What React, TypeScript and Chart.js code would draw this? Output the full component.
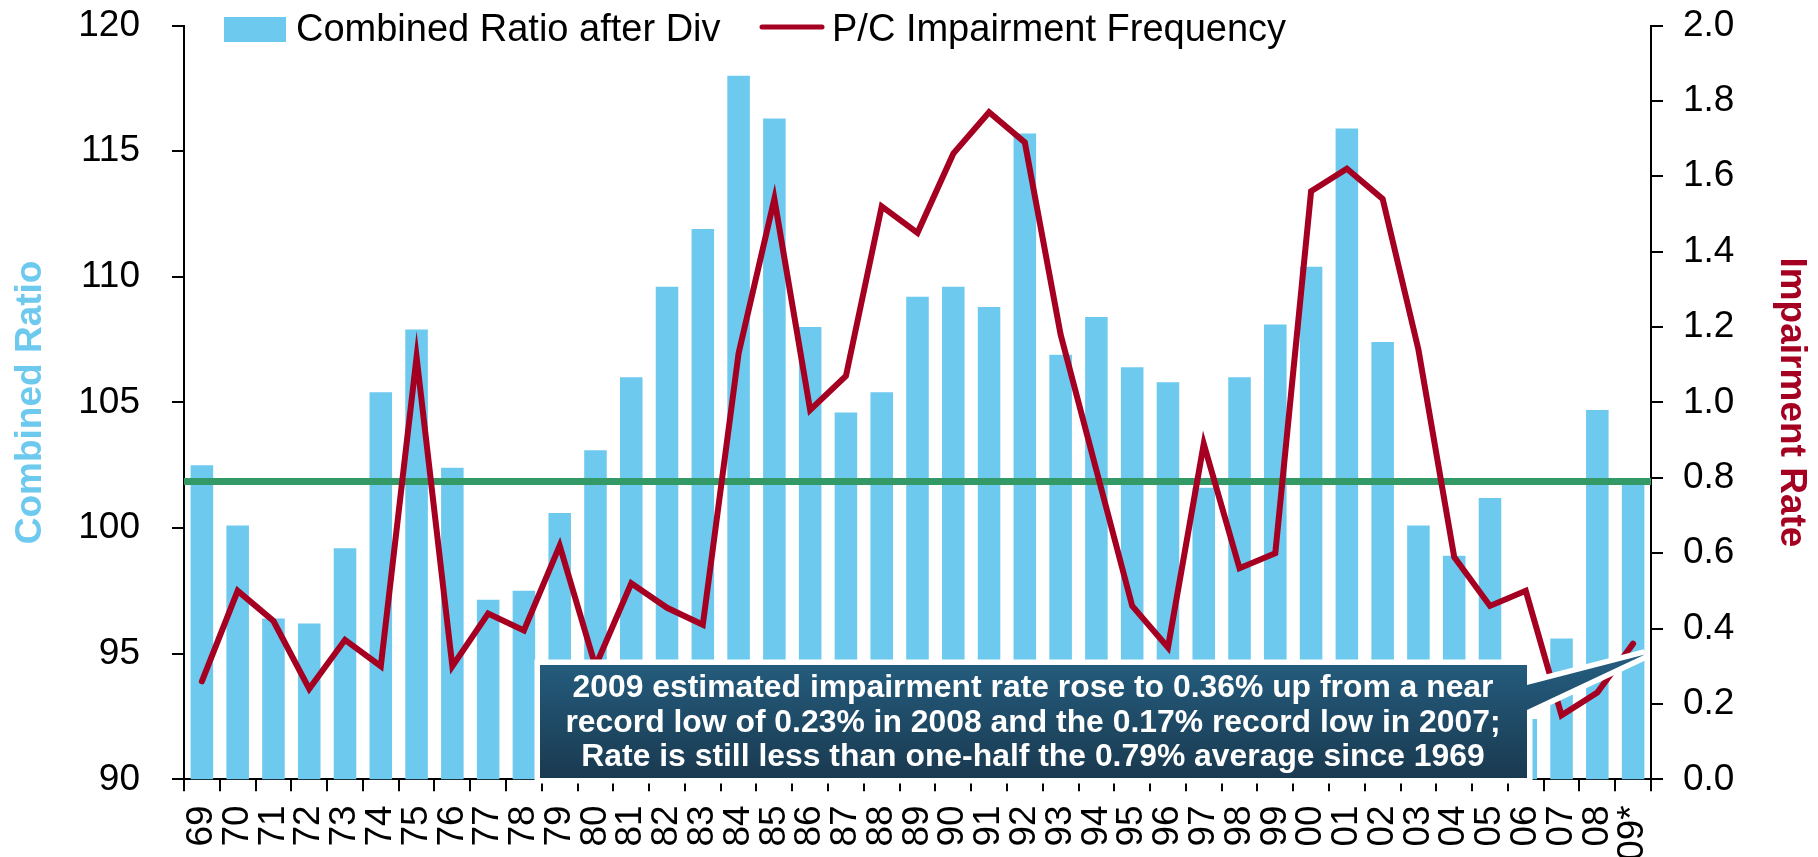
import React, { useEffect, useRef } from 'react';
import { Chart, registerables } from 'chart.js';

Chart.register(...registerables);

const FONT = "'Liberation Sans', Arial, Helvetica, sans-serif";
const BLUE = '#6DC9EE';
const RED = '#A50021';
const GREEN = '#339966';

const years = [
  '69', '70', '71', '72', '73', '74', '75', '76', '77', '78',
  '79', '80', '81', '82', '83', '84', '85', '86', '87', '88',
  '89', '90', '91', '92', '93', '94', '95', '96', '97', '98',
  '99', '00', '01', '02', '03', '04', '05', '06', '07', '08', '09*',
];

const combinedRatio = [
  102.5, 100.1, 96.4, 96.2, 99.2, 105.4, 107.9, 102.4, 97.15, 97.5,
  100.6, 103.1, 106.0, 109.6, 111.9, 118.0, 116.3, 108.0, 104.6, 105.4,
  109.2, 109.6, 108.8, 115.7, 106.9, 108.4, 106.4, 105.8, 101.6, 106.0,
  108.1, 110.4, 115.9, 107.4, 100.1, 98.9, 101.2, 92.4, 95.6, 104.7, 101.8,
];

const impairmentRate = [
  0.26, 0.50, 0.42, 0.24, 0.37, 0.30, 1.12, 0.30, 0.44, 0.395,
  0.62, 0.30, 0.52, 0.455, 0.41, 1.13, 1.54, 0.98, 1.07, 1.52,
  1.45, 1.66, 1.77, 1.69, 1.18, 0.82, 0.46, 0.35, 0.89, 0.56,
  0.60, 1.56, 1.62, 1.54, 1.14, 0.59, 0.46, 0.50, 0.17, 0.23, 0.36,
];

const averageRate = 0.79;

const leftAxisRange = [90, 120];
const leftAxisStep = 5;
const rightAxisRange = [0, 2];
const rightAxisStep = 0.2;

const seriesNames = ['Combined Ratio after Div', 'P/C Impairment Frequency'];
const axisTitles = ['Combined Ratio', 'Impairment Rate'];

const calloutLines = [
  '2009 estimated impairment rate rose to 0.36% up from a near',
  'record low of 0.23% in 2008 and the 0.17% record low in 2007;',
  'Rate is still less than one-half the 0.79% average since 1969',
];

const overlayPlugin = {
  id: 'overlay',
  afterDatasetDraw(chart: any, args: any) {
    if (args.meta.type !== 'bar') return;
    const { ctx, chartArea } = chart;
    const y = chart.scales.y1.getPixelForValue(averageRate);
    ctx.save();
    ctx.strokeStyle = GREEN;
    ctx.lineWidth = 7;
    ctx.beginPath();
    ctx.moveTo(chartArea.left, y);
    ctx.lineTo(chartArea.right, y);
    ctx.stroke();
    ctx.restore();
  },
  afterDraw(chart: any) {
    const { ctx } = chart;
    ctx.save();
    // Legend
    ctx.fillStyle = BLUE;
    ctx.fillRect(224, 17, 62, 25);
    ctx.fillStyle = '#000';
    ctx.font = `38px ${FONT}`;
    ctx.textBaseline = 'alphabetic';
    ctx.textAlign = 'left';
    ctx.fillText(seriesNames[0], 296, 41);
    ctx.strokeStyle = RED;
    ctx.lineWidth = 5;
    ctx.lineCap = 'round';
    ctx.beginPath();
    ctx.moveTo(762, 27);
    ctx.lineTo(822, 27);
    ctx.stroke();
    ctx.fillText(seriesNames[1], 832, 41);

    // Callout
    const L = 540, R = 1527, T = 665, B = 778;
    const tipX = 1645, tipY = 654.5;
    const path = () => {
      ctx.beginPath();
      ctx.moveTo(L, T);
      ctx.lineTo(R, T);
      ctx.lineTo(R, 685);
      ctx.lineTo(tipX, tipY);
      ctx.lineTo(R, 710);
      ctx.lineTo(R, B);
      ctx.lineTo(L, B);
      ctx.closePath();
    };
    path();
    ctx.lineCap = 'butt';
    ctx.lineJoin = 'miter';
    ctx.miterLimit = 4;
    ctx.strokeStyle = '#FFFFFF';
    ctx.lineWidth = 11;
    ctx.stroke();
    const grad = ctx.createLinearGradient(0, T, 0, B);
    grad.addColorStop(0, '#245B7C');
    grad.addColorStop(1, '#1A3A50');
    ctx.fillStyle = grad;
    path();
    ctx.fill();

    ctx.fillStyle = '#FFFFFF';
    ctx.font = `bold 30.5px ${FONT}`;
    ctx.textAlign = 'center';
    ctx.textBaseline = 'alphabetic';
    const w0 = ctx.measureText(calloutLines[0]).width;
    const sx = 921 / w0;
    const cx = 1033;
    const baselines = [697, 731.7, 766];
    calloutLines.forEach((line, i) => {
      ctx.save();
      ctx.translate(cx, baselines[i]);
      ctx.scale(sx, 1);
      ctx.fillText(line, 0, 0);
      ctx.restore();
    });
    ctx.restore();
  },
};

export default function App() {
  const canvasRef = useRef<HTMLCanvasElement | null>(null);

  useEffect(() => {
    const canvas = canvasRef.current;
    if (!canvas) return;
    const chart = new Chart(canvas, {
      type: 'bar',
      data: {
        labels: years,
        datasets: [
          {
            type: 'line',
            label: seriesNames[1],
            data: impairmentRate,
            yAxisID: 'y1',
            borderColor: RED,
            backgroundColor: RED,
            borderWidth: 6,
            pointRadius: 0,
            tension: 0,
            borderCapStyle: 'round',
            borderJoinStyle: 'miter',
            order: 0,
          } as any,
          {
            type: 'bar',
            label: seriesNames[0],
            data: combinedRatio,
            yAxisID: 'y',
            backgroundColor: BLUE,
            borderWidth: 0,
            barPercentage: 0.63,
            categoryPercentage: 1,
            order: 1,
          } as any,
        ],
      },
      options: {
        responsive: false,
        animation: false,
        devicePixelRatio: 1,
        layout: { padding: { top: 25.5, left: 0, right: 0, bottom: 0 } },
        plugins: {
          legend: { display: false },
          tooltip: { enabled: false },
        },
        scales: {
          x: {
            type: 'category',
            offset: true,
            grid: {
              display: true,
              drawOnChartArea: false,
              drawTicks: true,
              tickLength: 12,
              color: '#000',
              lineWidth: 2,
              offset: true,
            },
            border: { display: true, color: '#000', width: 2 },
            ticks: {
              autoSkip: false,
              maxRotation: 90,
              minRotation: 90,
              padding: 14,
              color: '#000',
              font: { family: FONT, size: 37 },
            },
            afterFit: (scale: any) => {
              scale.height = 77.7;
              scale.paddingLeft = 0;
              scale.paddingRight = 0;
            },
          },
          y: {
            type: 'linear',
            position: 'left',
            min: leftAxisRange[0],
            max: leftAxisRange[1],
            grid: {
              display: true,
              drawOnChartArea: false,
              drawTicks: true,
              tickLength: 12,
              color: '#000',
              lineWidth: 2,
            },
            border: { display: true, color: '#000', width: 2 },
            ticks: {
              stepSize: leftAxisStep,
              padding: 32,
              color: '#000',
              font: { family: FONT, size: 37 },
            },
            title: {
              display: true,
              text: axisTitles[0],
              color: BLUE,
              font: { family: FONT, size: 37, weight: 'bold' },
              padding: { top: 9, bottom: 0 },
            },
            afterFit: (scale: any) => {
              scale.width = 184;
              scale.paddingTop = 0;
              scale.paddingBottom = 0;
            },
          },
          y1: {
            type: 'linear',
            position: 'right',
            min: rightAxisRange[0],
            max: rightAxisRange[1],
            grid: {
              display: true,
              drawOnChartArea: false,
              drawTicks: true,
              tickLength: 12,
              color: '#000',
              lineWidth: 2,
            },
            border: { display: true, color: '#000', width: 2 },
            ticks: {
              stepSize: rightAxisStep,
              padding: 20,
              color: '#000',
              font: { family: FONT, size: 37 },
              callback: (v: any) => Number(v).toFixed(1),
            },
            title: {
              display: true,
              text: axisTitles[1],
              color: RED,
              font: { family: FONT, size: 37, weight: 'bold' },
              padding: { top: 4.8, bottom: 0 },
            },
            afterFit: (scale: any) => {
              scale.width = 167;
              scale.paddingTop = 0;
              scale.paddingBottom = 0;
            },
          },
        },
      },
      plugins: [overlayPlugin],
    } as any);
    return () => chart.destroy();
  }, []);

  return (
    <div style={{ position: 'fixed', left: 0, top: 0, width: 1818, height: 857, background: '#fff' }}>
      <canvas ref={canvasRef} width={1818} height={857} style={{ display: 'block', width: 1818, height: 857 }} />
    </div>
  );
}
